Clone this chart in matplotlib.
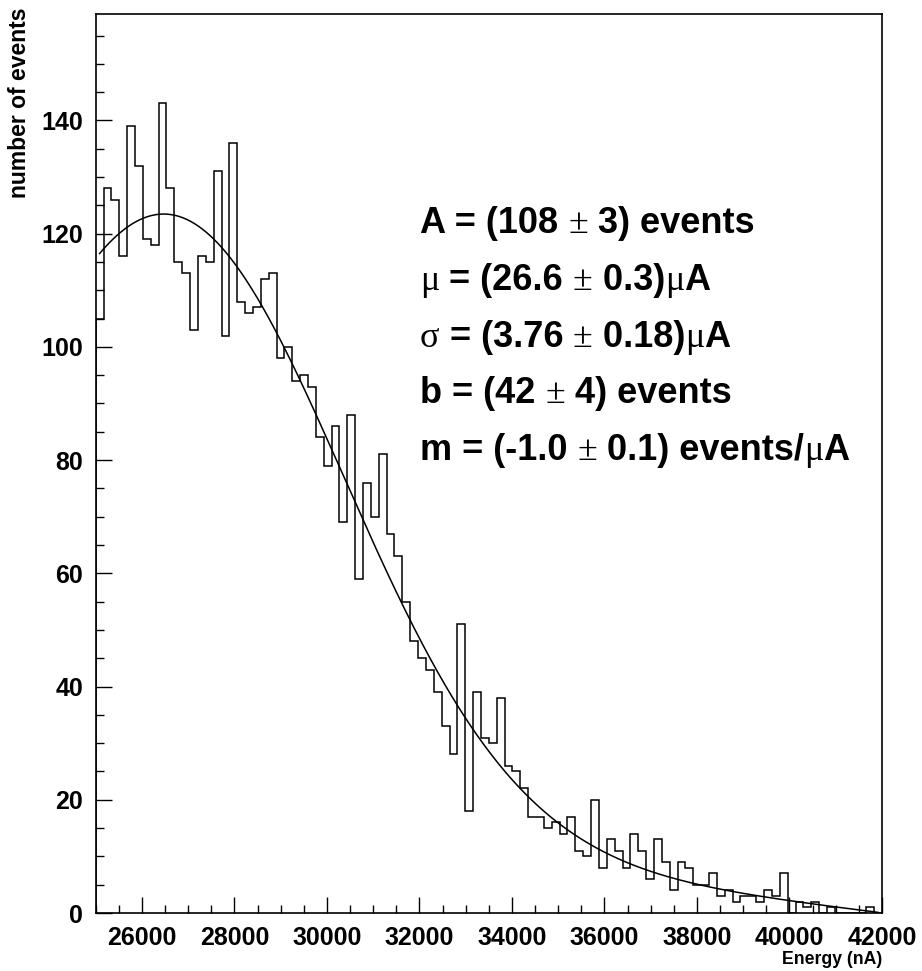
import matplotlib
matplotlib.use("Agg")
import matplotlib.pyplot as plt
import numpy as np
from matplotlib.offsetbox import TextArea, HPacker, AnnotationBbox
from matplotlib.ticker import MultipleLocator, FormatStrFormatter

# histogram contents, 100 bins between 25000 and 42000 nA
counts = [105, 128, 126, 116, 139, 132, 119, 118, 143, 128,
          115, 113, 103, 116, 115, 131, 102, 136, 108, 106,
          107, 112, 113, 98, 100, 94, 95, 93, 84, 79,
          86, 69, 88, 59, 76, 70, 81, 67, 63, 55,
          48, 45, 43, 39, 33, 28, 51, 18, 39, 31,
          30, 38, 26, 25, 22, 17, 17, 15, 16, 14,
          17, 11, 10, 20, 8, 13, 11, 8, 14, 11,
          6, 13, 9, 4, 9, 8, 5, 5, 7, 3,
          4, 2, 3, 3, 2, 4, 3, 7, 0, 2,
          1, 2, 0, 1, 0, 0, 0, 0, 1, 0]
x_lo, x_hi = 25000, 42000

# fit: gaussian + straight line, energies in uA
A, mu, sigma, b, m = 108.0, 26.6, 3.76, 42.0, -1.0

fit_text = [
    [("A = (108 ", "b"), ("\u00b1", "s"), (" 3) events", "b")],
    [("\u03bc", "s"), (" = (26.6 ", "b"), ("\u00b1", "s"), (" 0.3)", "b"), ("\u03bc", "s"), ("A", "b")],
    [("\u03c3", "s"), (" = (3.76 ", "b"), ("\u00b1", "s"), (" 0.18)", "b"), ("\u03bc", "s"), ("A", "b")],
    [("b = (42 ", "b"), ("\u00b1", "s"), (" 4) events", "b")],
    [("m = (-1.0 ", "b"), ("\u00b1", "s"), (" 0.1) events/", "b"), ("\u03bc", "s"), ("A", "b")],
]

W, H = 922, 971
fig = plt.figure(figsize=(W / 100, H / 100), dpi=100)
ax = fig.add_axes([95.7 / W, 58 / H, (882 - 95.7) / W, (913 - 14) / H])

edges = np.linspace(x_lo, x_hi, len(counts) + 1)
ax.stairs(counts, edges, color="black", linewidth=1.1, baseline=0)

centers = 0.5 * (edges[:-1] + edges[1:])
xf = np.linspace(centers[0], centers[-1], 600)
e = xf / 1000.0
yf = A * np.exp(-(e - mu) ** 2 / (2 * sigma ** 2)) + b + m * e
ax.plot(xf, yf, color="black", linewidth=1.1)

ax.set_xlim(x_lo, x_hi)
ax.set_ylim(0, 158.8)

ax.xaxis.set_major_locator(MultipleLocator(2000))
ax.xaxis.set_minor_locator(MultipleLocator(500))
ax.yaxis.set_major_locator(MultipleLocator(20))
ax.yaxis.set_minor_locator(MultipleLocator(5))
ax.xaxis.set_major_formatter(FormatStrFormatter("%d"))
ax.yaxis.set_major_formatter(FormatStrFormatter("%d"))

ax.tick_params(which="both", direction="in", top=False, right=False, width=1.0)
ax.tick_params(which="major", length=11.5, pad=9, labelsize=18)
ax.tick_params(which="minor", length=5.8)
for lab in ax.get_xticklabels() + ax.get_yticklabels():
    lab.set_fontweight("bold")
    lab.set_family("Liberation Sans")
for s in ax.spines.values():
    s.set_linewidth(1.2)

fig.text(882 / W, 1 - 959 / H, "Energy (nA)", ha="right", va="center",
         fontsize=12.7, fontweight="bold", family="Liberation Sans")
fig.text(20 / W, 1 - 8 / H, "number of events", ha="center", va="top",
         rotation=90, fontsize=16.5, fontweight="bold", family="Liberation Sans")

# fit results, symbols in a serif face like the rest of the label
bold = dict(fontsize=26, fontweight="bold", family="Liberation Sans", color="black")
sym = dict(fontsize=26, family="Liberation Serif", color="black")
centers_y = [223.6, 280.6, 337.3, 393.6, 450.6]
for parts, yc in zip(fit_text, centers_y):
    boxes = [TextArea(t, textprops=bold if k == "b" else sym) for t, k in parts]
    row = HPacker(children=boxes, align="baseline", pad=0, sep=0)
    ab = AnnotationBbox(row, (420 / W, 1 - yc / H), xycoords="figure fraction",
                        box_alignment=(0, 0.5), frameon=False, pad=0)
    fig.add_artist(ab)

fig.savefig("out.png", dpi=100)
